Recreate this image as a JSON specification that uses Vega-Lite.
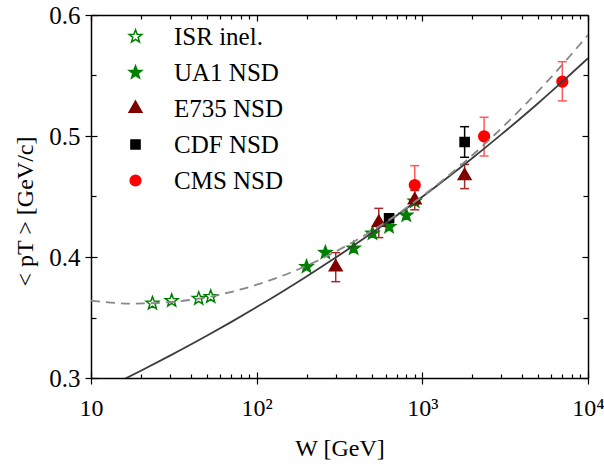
{
  "$schema": "https://vega.github.io/schema/vega-lite/v6.json",
  "width": 497,
  "height": 363,
  "autosize": "none",
  "padding": {"left": 91, "top": 15, "right": 16, "bottom": 86},
  "background": "white",
  "datasets": {
    "pts": [
      {"exp": "ISR inel.", "W": 23.5, "pt": 0.3617},
      {"exp": "ISR inel.", "W": 30.7, "pt": 0.3639},
      {"exp": "ISR inel.", "W": 44.7, "pt": 0.3657},
      {"exp": "ISR inel.", "W": 52.8, "pt": 0.3672},
      {"exp": "UA1 NSD", "W": 200, "pt": 0.392},
      {"exp": "UA1 NSD", "W": 260, "pt": 0.4036},
      {"exp": "UA1 NSD", "W": 385, "pt": 0.4072},
      {"exp": "UA1 NSD", "W": 500, "pt": 0.4195},
      {"exp": "UA1 NSD", "W": 630, "pt": 0.425},
      {"exp": "UA1 NSD", "W": 800, "pt": 0.4345},
      {"exp": "UA1 NSD", "W": 900, "pt": 0.446},
      {"exp": "E735 NSD", "W": 300, "pt": 0.3916, "lo": 0.3796, "hi": 0.4036},
      {"exp": "E735 NSD", "W": 546, "pt": 0.4284, "lo": 0.416, "hi": 0.4402},
      {"exp": "E735 NSD", "W": 900, "pt": 0.447, "lo": 0.439, "hi": 0.455},
      {"exp": "E735 NSD", "W": 1800, "pt": 0.467, "lo": 0.4565, "hi": 0.4765},
      {"exp": "CDF NSD", "W": 630, "pt": 0.432, "lo": 0.429, "hi": 0.435},
      {"exp": "CDF NSD", "W": 1800, "pt": 0.495, "lo": 0.4824, "hi": 0.5077},
      {"exp": "CMS NSD", "W": 900, "pt": 0.4595, "lo": 0.4435, "hi": 0.4755},
      {"exp": "CMS NSD", "W": 2360, "pt": 0.4997, "lo": 0.4835, "hi": 0.5155},
      {"exp": "CMS NSD", "W": 7000, "pt": 0.545, "lo": 0.529, "hi": 0.5614}
    ],
    "solid": [
      {"W": 15, "pt": 0.2974},
      {"W": 20, "pt": 0.306},
      {"W": 30, "pt": 0.3185},
      {"W": 50, "pt": 0.3349},
      {"W": 70, "pt": 0.3462},
      {"W": 100, "pt": 0.3586},
      {"W": 150, "pt": 0.3732},
      {"W": 200, "pt": 0.3839},
      {"W": 300, "pt": 0.3995},
      {"W": 500, "pt": 0.4202},
      {"W": 700, "pt": 0.4343},
      {"W": 1000, "pt": 0.4498},
      {"W": 1500, "pt": 0.4682},
      {"W": 2000, "pt": 0.4816},
      {"W": 3000, "pt": 0.5013},
      {"W": 5000, "pt": 0.5271},
      {"W": 7000, "pt": 0.5449},
      {"W": 10000, "pt": 0.5643}
    ],
    "dashed": [
      {"W": 10, "pt": 0.3639},
      {"W": 17.78, "pt": 0.3615},
      {"W": 31.62, "pt": 0.363},
      {"W": 56.23, "pt": 0.3681},
      {"W": 100, "pt": 0.3771},
      {"W": 177.8, "pt": 0.3897},
      {"W": 316.2, "pt": 0.4062},
      {"W": 562.3, "pt": 0.4263},
      {"W": 1000, "pt": 0.4503},
      {"W": 1778, "pt": 0.4779},
      {"W": 3162, "pt": 0.5094},
      {"W": 5623, "pt": 0.5445},
      {"W": 10000, "pt": 0.5835}
    ]
  },
  "layer": [
    {
      "data": {"name": "pts"},
      "transform": [{"filter": "isValid(datum.lo)"}],
      "mark": {"type": "rule", "strokeWidth": 1.5},
      "encoding": {
        "x": {"field": "W", "type": "quantitative", "scale": {"type": "log", "domain": [10, 10000], "nice": false}, "axis": null},
        "y": {"field": "lo", "type": "quantitative", "scale": {"domain": [0.3, 0.6], "nice": false, "zero": false}, "axis": null},
        "y2": {"field": "hi"},
        "color": {"field": "exp", "type": "nominal", "scale": {"domain": ["E735 NSD", "CDF NSD", "CMS NSD"], "range": ["#a52a2a", "#000000", "#ff5a5a"]}, "legend": null}
      }
    },
    {
      "data": {"name": "pts"},
      "transform": [{"filter": "isValid(datum.lo)"}],
      "mark": {"type": "tick", "orient": "horizontal", "size": 9, "thickness": 1.5, "opacity": 1},
      "encoding": {
        "x": {"field": "W", "type": "quantitative", "scale": {"type": "log", "domain": [10, 10000], "nice": false}, "axis": null},
        "y": {"field": "lo", "type": "quantitative", "scale": {"domain": [0.3, 0.6], "nice": false, "zero": false}, "axis": null},
        "color": {"field": "exp", "type": "nominal", "scale": {"domain": ["E735 NSD", "CDF NSD", "CMS NSD"], "range": ["#a52a2a", "#000000", "#ff5a5a"]}, "legend": null}
      }
    },
    {
      "data": {"name": "pts"},
      "transform": [{"filter": "isValid(datum.hi)"}],
      "mark": {"type": "tick", "orient": "horizontal", "size": 9, "thickness": 1.5, "opacity": 1},
      "encoding": {
        "x": {"field": "W", "type": "quantitative", "scale": {"type": "log", "domain": [10, 10000], "nice": false}, "axis": null},
        "y": {"field": "hi", "type": "quantitative", "scale": {"domain": [0.3, 0.6], "nice": false, "zero": false}, "axis": null},
        "color": {"field": "exp", "type": "nominal", "scale": {"domain": ["E735 NSD", "CDF NSD", "CMS NSD"], "range": ["#a52a2a", "#000000", "#ff5a5a"]}, "legend": null}
      }
    },
    {
      "data": {"name": "pts"},
      "mark": {"type": "point", "opacity": 1, "fillOpacity": 1, "strokeWidth": 1.5, "size": 180},
      "encoding": {
        "x": {
          "field": "W", "type": "quantitative",
          "scale": {"type": "log", "domain": [10, 10000], "nice": false},
          "axis": {
            "orient": "bottom",
            "values": [10, 100, 1000, 10000],
            "labelExpr": "datum.value == 10 ? '10' : datum.value == 100 ? '10\u00b2' : datum.value == 1000 ? '10\u00b3' : '10\u2074'",
            "tickSize": 6,
            "labelPadding": 12,
            "labelFlush": false,
            "labelOverlap": false,
            "domain": true,
            "title": "W [GeV]",
            "titleBaseline": "alphabetic",
            "titleY": 77
          }
        },
        "y": {
          "field": "pt", "type": "quantitative",
          "scale": {"domain": [0.3, 0.6], "nice": false, "zero": false},
          "axis": {
            "orient": "left",
            "values": [0.3, 0.4, 0.5, 0.6],
            "format": ".1f",
            "tickSize": 6,
            "labelPadding": 5,
            "labelFontSize": 25,
            "labelFlush": false,
            "labelOverlap": false,
            "domain": true,
            "title": "< pT > [GeV/c]",
            "titleBaseline": "alphabetic",
            "titleAngle": 270,
            "titleX": -59,
            "titleY": 196
          }
        },
        "shape": {
          "field": "exp", "type": "nominal",
          "scale": {
            "domain": ["ISR inel.", "UA1 NSD", "E735 NSD", "CDF NSD", "CMS NSD"],
            "range": [
              "M0,-1L0.247,-0.34L0.951,-0.309L0.399,0.13L0.588,0.809L0,0.42L-0.588,0.809L-0.399,0.13L-0.951,-0.309L-0.247,-0.34Z",
              "M0,-1L0.247,-0.34L0.951,-0.309L0.399,0.13L0.588,0.809L0,0.42L-0.588,0.809L-0.399,0.13L-0.951,-0.309L-0.247,-0.34Z",
              "M0,-1.1L0.95,0.55L-0.95,0.55Z",
              "M-0.68,-0.68L0.68,-0.68L0.68,0.68L-0.68,0.68Z",
              "M0.8,0A0.8,0.8,0,1,1,-0.8,0A0.8,0.8,0,1,1,0.8,0Z"
            ]
          },
          "legend": {"title": null}
        },
        "fill": {
          "field": "exp", "type": "nominal",
          "scale": {"domain": ["ISR inel.", "UA1 NSD", "E735 NSD", "CDF NSD", "CMS NSD"], "range": ["#ffffff", "#008000", "#800000", "#000000", "#ff0000"]},
          "legend": {"title": null}
        },
        "stroke": {
          "field": "exp", "type": "nominal",
          "scale": {"domain": ["ISR inel.", "UA1 NSD", "E735 NSD", "CDF NSD", "CMS NSD"], "range": ["#008000", "#008000", "#800000", "#000000", "#ff0000"]},
          "legend": {"title": null}
        }
      }
    },
    {
      "data": {"name": "solid"},
      "mark": {"type": "line", "color": "#3c3c3c", "strokeWidth": 1.8, "interpolate": "monotone", "clip": true},
      "encoding": {
        "x": {
          "field": "W", "type": "quantitative",
          "scale": {"type": "log", "domain": [10, 10000], "nice": false},
          "axis": {
            "orient": "bottom",
            "values": [10, 20, 30, 40, 50, 60, 70, 80, 90, 100, 200, 300, 400, 500, 600, 700, 800, 900, 1000, 2000, 3000, 4000, 5000, 6000, 7000, 8000, 9000, 10000],
            "labels": false,
            "domain": false,
            "title": null,
            "tickSize": {"condition": {"test": "indexof([10, 100, 1000, 10000], datum.value) >= 0", "value": -6}, "value": -4}
          }
        },
        "y": {
          "field": "pt", "type": "quantitative",
          "scale": {"domain": [0.3, 0.6], "nice": false, "zero": false},
          "axis": {
            "orient": "left",
            "values": [0.3, 0.35, 0.4, 0.45, 0.5, 0.55, 0.6],
            "labels": false,
            "domain": false,
            "title": null,
            "tickSize": {"condition": {"test": "indexof([0.3, 0.4, 0.5, 0.6], datum.value) >= 0", "value": -6}, "value": -5}
          }
        }
      }
    },
    {
      "data": {"name": "dashed"},
      "mark": {"type": "line", "color": "#888888", "strokeWidth": 1.8, "strokeDash": [9, 6], "interpolate": "monotone", "clip": true},
      "encoding": {
        "x": {
          "field": "W", "type": "quantitative",
          "scale": {"type": "log", "domain": [10, 10000], "nice": false},
          "axis": {
            "orient": "top",
            "values": [10, 20, 30, 40, 50, 60, 70, 80, 90, 100, 200, 300, 400, 500, 600, 700, 800, 900, 1000, 2000, 3000, 4000, 5000, 6000, 7000, 8000, 9000, 10000],
            "labels": false,
            "domain": true,
            "title": null,
            "tickSize": {"condition": {"test": "indexof([10, 100, 1000, 10000], datum.value) >= 0", "value": -6}, "value": -4}
          }
        },
        "y": {
          "field": "pt", "type": "quantitative",
          "scale": {"domain": [0.3, 0.6], "nice": false, "zero": false},
          "axis": {
            "orient": "right",
            "values": [0.3, 0.35, 0.4, 0.45, 0.5, 0.55, 0.6],
            "labels": false,
            "domain": true,
            "title": null,
            "tickSize": {"condition": {"test": "indexof([0.3, 0.4, 0.5, 0.6], datum.value) >= 0", "value": -6}, "value": -5}
          }
        }
      }
    }
  ],
  "resolve": {"axis": {"x": "independent", "y": "independent"}},
  "config": {
    "view": {"stroke": null},
    "font": "Liberation Serif",
    "axis": {
      "grid": false,
      "domainColor": "#000000",
      "domainWidth": 1.5,
      "tickColor": "#000000",
      "tickWidth": 1.2,
      "labelFont": "Liberation Serif",
      "labelFontSize": 24,
      "labelColor": "#000000",
      "titleFont": "Liberation Serif",
      "titleFontSize": 24,
      "titleFontWeight": "normal",
      "titleColor": "#000000"
    },
    "legend": {
      "orient": "none",
      "legendX": 32,
      "legendY": 9,
      "padding": 0,
      "labelFont": "Liberation Serif",
      "labelFontSize": 25,
      "labelColor": "#000000",
      "labelOffset": 26,
      "rowPadding": 10,
      "symbolSize": 180,
      "symbolStrokeWidth": 1.5,
      "symbolOpacity": 1
    }
  }
}
